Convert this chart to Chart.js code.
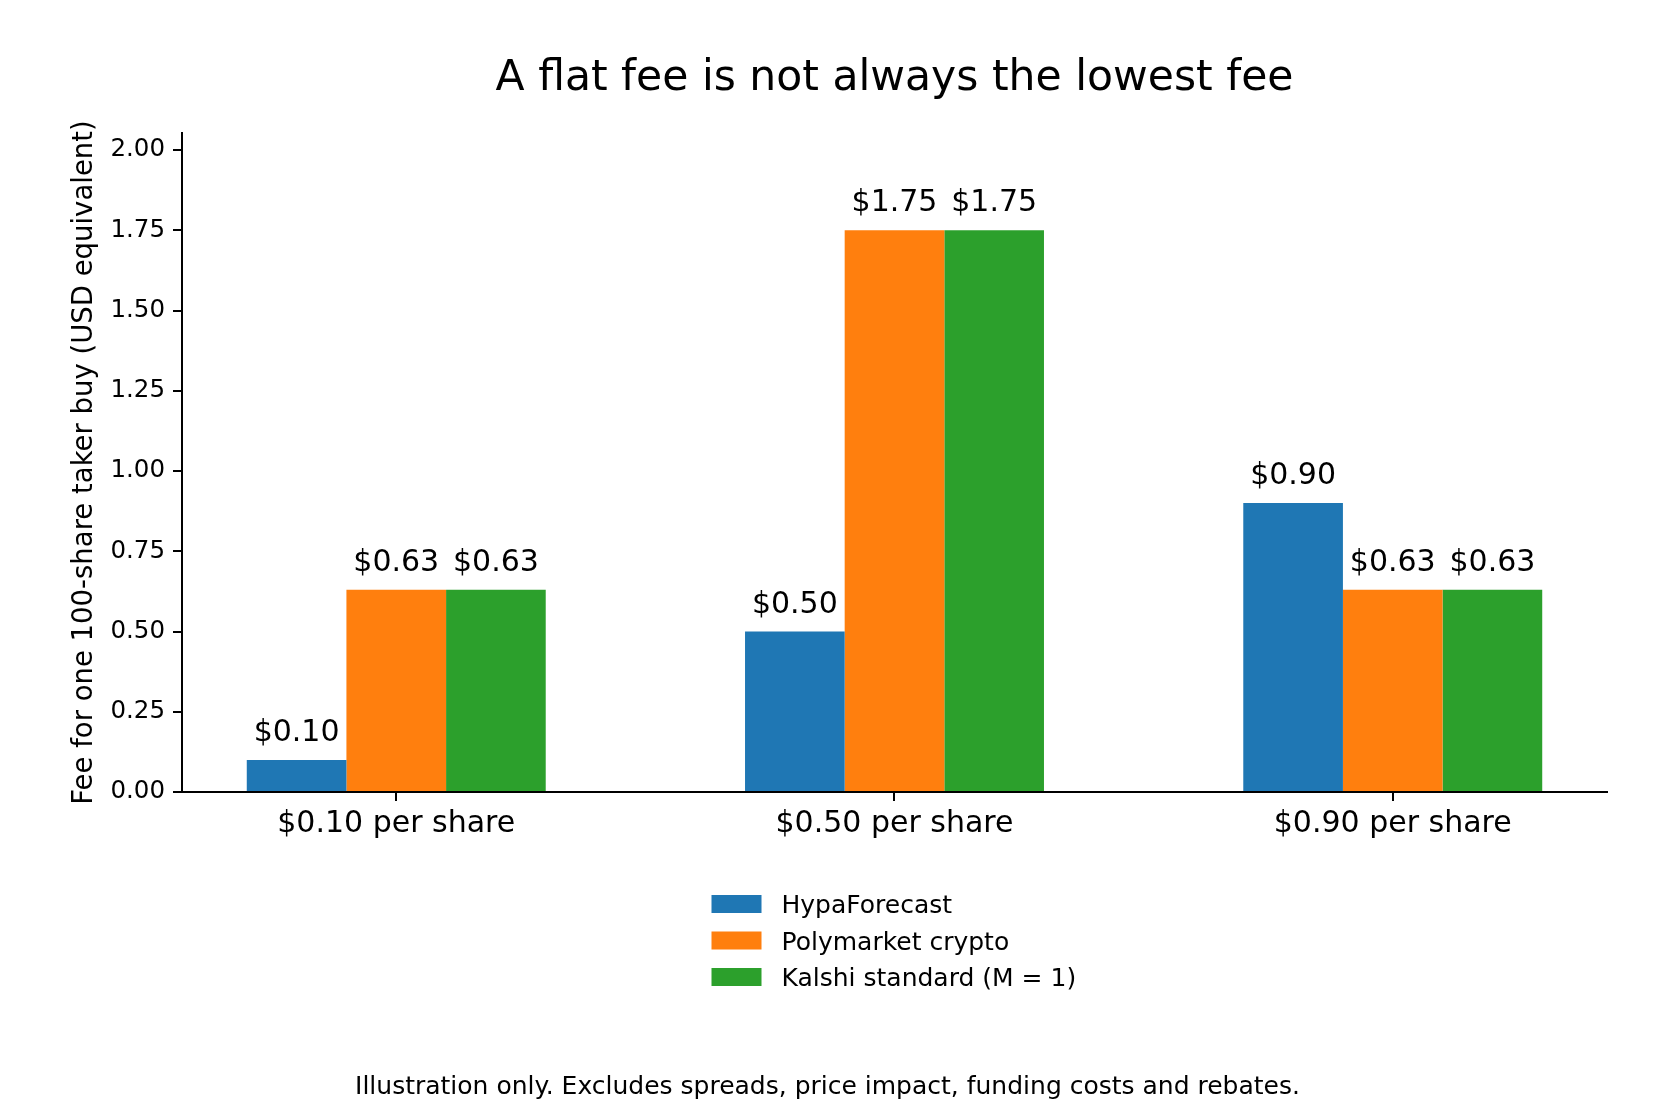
<!DOCTYPE html>
<html>
<head>
<meta charset="utf-8">
<script src="https://cdn.jsdelivr.net/npm/chart.js@4/dist/chart.umd.min.js"></script>
<style>
  body { margin: 0; background: #fff; }
  canvas { display: block; }
</style>
</head>
<body>
<canvas id="feeChart" width="1655" height="1116"></canvas>
<script>
// data
const categories = ['$0.10 per share', '$0.50 per share', '$0.90 per share'];
const seriesNames = ['HypaForecast', 'Polymarket crypto', 'Kalshi standard (M = 1)'];
const hypaFees = [0.10, 0.50, 0.90];
const polyFees = [0.63, 1.75, 0.63];
const kalshiFees = [0.63, 1.75, 0.63];
const yTicks = [0, 0.25, 0.5, 0.75, 1.0, 1.25, 1.5, 1.75, 2.0];
const seriesColors = ['#1f77b4', '#ff7f0e', '#2ca02c'];

const chartTitle = 'A flat fee is not always the lowest fee';
const yTitle = 'Fee for one 100-share taker buy (USD equivalent)';
const footnote = 'Illustration only. Excludes spreads, price impact, funding costs and rebates.';

const FONT = "'DejaVu Sans', 'Liberation Sans', sans-serif";
Chart.defaults.font.family = FONT;
Chart.defaults.color = '#000';

function toPoints(values) {
    return values.map((v, i) => ({ x: i, y: v }));
}

const seriesValues = [hypaFees, polyFees, kalshiFees];
const datasets = seriesValues.map((vals, i) => ({
    label: seriesNames[i],
    data: toPoints(vals),
    backgroundColor: seriesColors[i],
    borderWidth: 0,
    categoryPercentage: 0.6,
    barPercentage: 1.0
}));

// bar value labels, title, legend and footnote
const extrasPlugin = {
    id: 'extras',
    afterDatasetsDraw(chart) {
        const ctx = chart.ctx;
        ctx.save();
        ctx.font = '30px ' + FONT;
        ctx.fillStyle = '#000';
        ctx.textAlign = 'center';
        ctx.textBaseline = 'alphabetic';
        chart.data.datasets.forEach((ds, di) => {
            const meta = chart.getDatasetMeta(di);
            meta.data.forEach((bar, i) => {
                ctx.fillText('$' + ds.data[i].y.toFixed(2), bar.x, bar.y - 19);
            });
        });
        ctx.restore();
    },
    afterDraw(chart) {
        const ctx = chart.ctx;
        const area = chart.chartArea;
        const midX = (area.left + area.right) / 2;
        ctx.save();
        ctx.fillStyle = '#000';
        ctx.textBaseline = 'alphabetic';

        ctx.font = '42.5px ' + FONT;
        ctx.textAlign = 'center';
        ctx.fillText(chartTitle, midX, 90);

        // legend
        const lx = midX - 183;
        ctx.font = '25px ' + FONT;
        ctx.textAlign = 'left';
        chart.data.datasets.forEach((ds, i) => {
            const cy = 904 + i * 36.5;
            ctx.fillStyle = ds.backgroundColor;
            ctx.fillRect(lx, cy - 9, 50, 18);
            ctx.fillStyle = '#000';
            ctx.fillText(ds.label, lx + 70, cy + 9);
        });

        ctx.font = '25px ' + FONT;
        ctx.textAlign = 'center';
        ctx.fillText(footnote, chart.width / 2, 1094);
        ctx.restore();
    }
};

new Chart(document.getElementById('feeChart'), {
    type: 'bar',
    data: { datasets: datasets },
    options: {
        responsive: false,
        animation: false,
        layout: { padding: { top: 133, left: 0, right: 48, bottom: 264 } },
        plugins: {
            legend: { display: false },
            title: { display: false },
            tooltip: { enabled: false }
        },
        scales: {
            x: {
                type: 'linear',
                min: -0.43,
                max: 2.43,
                offset: false,
                afterBuildTicks: (scale) => {
                    scale.ticks = categories.map((c, i) => ({ value: i }));
                },
                afterFit: (scale) => { scale.height = 60; },
                ticks: {
                    padding: 5,
                    font: { size: 30 },
                    color: '#000',
                    maxRotation: 0,
                    autoSkip: false,
                    callback: (v) => categories[v]
                },
                grid: {
                    offset: false,
                    drawOnChartArea: false,
                    drawTicks: true,
                    tickLength: 9,
                    color: '#000',
                    lineWidth: 2
                },
                border: { display: true, color: '#000', width: 2 }
            },
            y: {
                min: 0,
                max: 2.053,
                afterBuildTicks: (scale) => {
                    scale.ticks = yTicks.map(v => ({ value: v }));
                },
                afterFit: (scale) => { scale.width = 182; },
                ticks: {
                    padding: 8,
                    font: { size: 24.5 },
                    color: '#000',
                    callback: (v) => v.toFixed(2)
                },
                grid: {
                    drawOnChartArea: false,
                    drawTicks: true,
                    tickLength: 9,
                    color: '#000',
                    lineWidth: 2
                },
                border: { display: true, color: '#000', width: 2 },
                title: {
                    display: true,
                    text: yTitle,
                    font: { size: 27.5 },
                    color: '#000',
                    padding: { top: 68, bottom: 0 }
                }
            }
        }
    },
    plugins: [extrasPlugin]
});
</script>
</body>
</html>
